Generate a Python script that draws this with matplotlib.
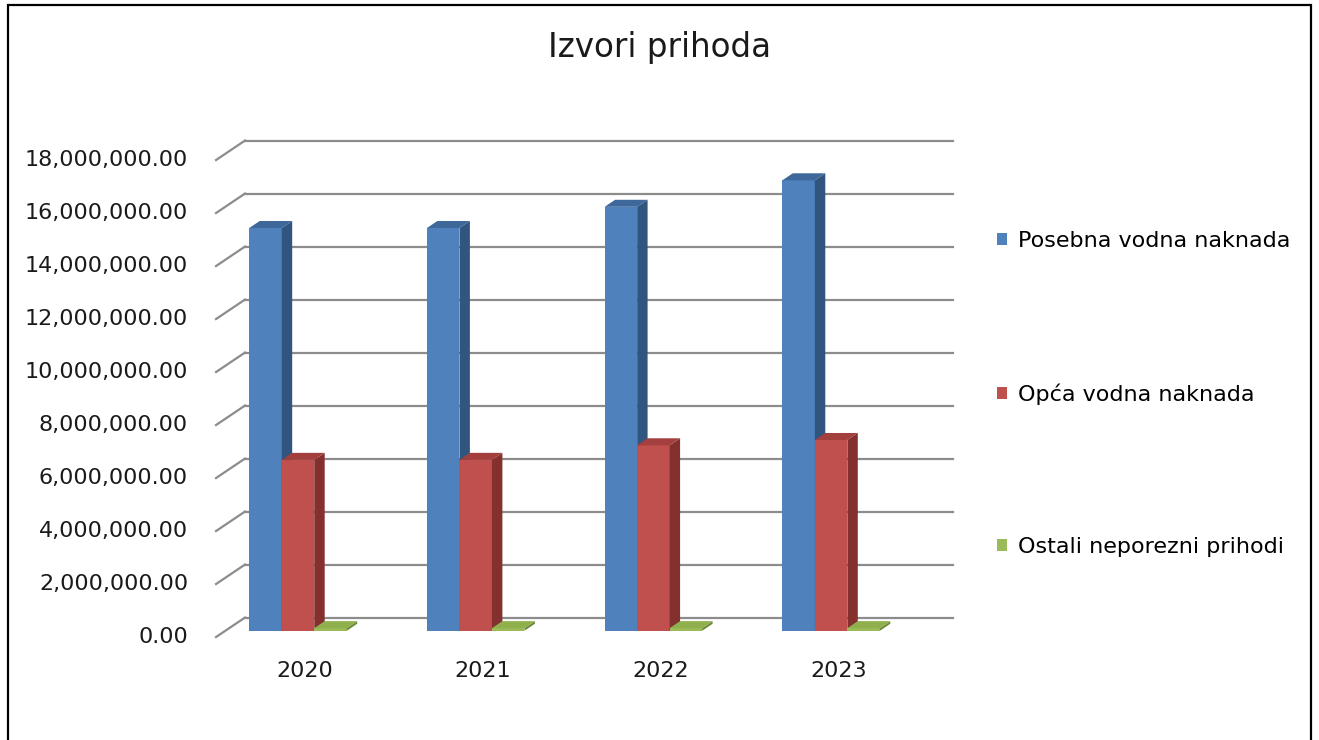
import matplotlib
matplotlib.use("Agg")
import matplotlib.pyplot as plt
from matplotlib.patches import Polygon, Rectangle, Patch
import numpy as np

# Podaci (procijenjeni sa slike)
godine = ["2020", "2021", "2022", "2023"]
posebna = [15.2e6, 15.2e6, 16.0e6, 17.0e6]
opca = [6.45e6, 6.45e6, 7.0e6, 7.2e6]
ostali = [0.1e6, 0.1e6, 0.1e6, 0.1e6]
nazivi = ["Posebna vodna naknada", "Opća vodna naknada", "Ostali neporezni prihodi"]
y_ticks = [0, 2e6, 4e6, 6e6, 8e6, 10e6, 12e6, 14e6, 16e6, 18e6]

# boje: (prednja, bočna, gornja)
boje = [("#4F81BD", "#30557F", "#3D6899"),
        ("#C0504D", "#83302E", "#A33F3C"),
        ("#9BBB59", "#6C8A3A", "#8FB04C")]
grid_c = "#8C8C8C"
fs = 16

plt.rcParams["font.family"] = ["DejaVu Sans"]

W, H = 1319, 740
fig = plt.figure(figsize=(W / 100, H / 100), dpi=100)

# osi u ravnini prednje strane stupaca
left_px, right_px = 225.3, 933.3
top_px, bot_px = 153.8, 630.8
ax = fig.add_axes([left_px / W, 1 - bot_px / H, (right_px - left_px) / W, (bot_px - top_px) / H])
ax.axis("off")

cat_px = 177.7
x0 = (left_px - 298) / cat_px
x1 = (right_px - 298) / cat_px
ax.set_xlim(x0, x1)
ax.set_ylim(0, 18e6)

px_x = 1 / cat_px
px_y = 18e6 / (bot_px - top_px)


def pomak(f):
    return f * 29 * px_x, f * 19.5 * px_y


back = pomak(0.68)
front = pomak(-0.32)
dub = pomak(0.36)

# mreža na stražnjem zidu + kose crtice lijevo
for v in y_ticks:
    ax.plot([x0 + back[0], x1 + back[0]], [v + back[1]] * 2, color=grid_c, lw=1.6,
            clip_on=False, zorder=1)
    ax.plot([x0 + front[0], x0 + back[0]], [v + front[1], v + back[1]], color=grid_c,
            lw=1.6, clip_on=False, zorder=1)
    ax.text(x0 + front[0] - 28 * px_x, v + front[1], f"{v:,.2f}", ha="right", va="center",
            fontsize=fs, color="#1a1a1a", clip_on=False)

# stupci
x = np.arange(len(godine))
bw = 32.5 * px_x
dx, dy = dub
for k, vals in enumerate([posebna, opca, ostali]):
    c_front, c_side, c_top = boje[k]
    xs = x + (k - 1) * bw
    ax.bar(xs, vals, bw, color=c_front, zorder=2 + k, linewidth=0)
    for xc, v in zip(xs, vals):
        xl, xr = xc - bw / 2, xc + bw / 2
        ax.add_patch(Polygon([(xr, 0), (xr, v), (xr + dx, v + dy), (xr + dx, dy)],
                             closed=True, facecolor=c_side, edgecolor="none", zorder=2 + k))
        ax.add_patch(Polygon([(xl, v), (xr, v), (xr + dx, v + dy), (xl + dx, v + dy)],
                             closed=True, facecolor=c_top, edgecolor="none", zorder=2 + k))

# godine ispod
for xc, g in zip(x, godine):
    ax.text(xc + 0.04, -1.5e6, g, ha="center", va="center", fontsize=fs, color="#1a1a1a",
            clip_on=False)

# naslov
fig.text(0.5, 1 - 48 / H, "Izvori prihoda", ha="center", va="center", fontsize=23.5, color="#1a1a1a")

# legenda
handles = [Patch(facecolor=b[0], edgecolor="none") for b in boje]
fig.legend(handles, nazivi, loc="center left", bbox_to_anchor=(997 / W, 1 - 394 / H),
           frameon=False, fontsize=fs, handlelength=0.45, handleheight=0.45,
           handletextpad=0.5, labelspacing=5.95, borderpad=0, borderaxespad=0)

# okvir
fig.add_artist(Rectangle((8 / W, -0.05), (1311 - 8) / W, 1.05 - 5 / H, transform=fig.transFigure,
                         fill=False, edgecolor="black", lw=1.6))

fig.savefig("out.png", dpi=100, facecolor="white")
